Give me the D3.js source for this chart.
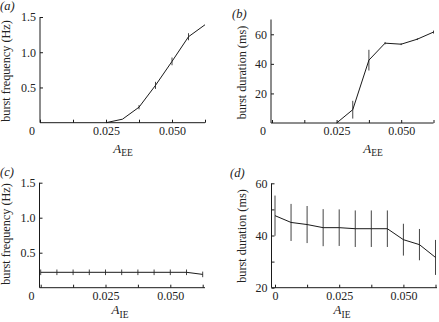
<!DOCTYPE html>
<html>
<head>
<meta charset="utf-8">
<script src="https://cdn.jsdelivr.net/npm/d3@7"></script>
<style>
  html, body { margin: 0; padding: 0; background: #fff; }
  svg { display: block; }
  svg text { font-family: "Liberation Serif", "DejaVu Serif", serif !important; fill: #222; }
</style>
</head>
<body>
<svg id="fig" width="439" height="322"></svg>
<script>
// Coupling strengths (x values)
const aEE = [0.025, 0.03125, 0.0375, 0.04375, 0.05, 0.05625, 0.0625];
const aIE = [0, 0.00625, 0.0125, 0.01875, 0.025, 0.03125, 0.0375, 0.04375, 0.05, 0.05625, 0.0625];

// (a) burst frequency vs A_EE
const freqEE = [0, 0.05, 0.22, 0.53, 0.87, 1.22, 1.39];
const freqEEErr = [0, 0, 0.03, 0.05, 0.055, 0.05, 0];

// (b) burst duration vs A_EE
const durEE = [0, 9, 42.5, 54, 53.3, 56.7, 61.5];
const durEEErr = [0, 6, 7, 0.8, 0.6, 0.6, 1];

// (c) burst frequency vs A_IE
const freqIE = [0.22, 0.22, 0.22, 0.22, 0.22, 0.22, 0.22, 0.22, 0.22, 0.22, 0.19];
const freqIEErr = [0.04, 0.04, 0.04, 0.04, 0.04, 0.04, 0.04, 0.04, 0.04, 0.04, 0.04];

// (d) burst duration vs A_IE
const durIE = [47.6, 45.0, 44.2, 43.0, 43.0, 42.6, 42.6, 42.6, 38.4, 36.5, 31.6];
const durIEErr = [7.7, 7.1, 7.1, 7.1, 7.0, 7.0, 7.0, 7.0, 6.1, 6.0, 6.7];

// Axis ticks
const xTicks = [0, 0.0125, 0.025, 0.0375, 0.05, 0.0625];
const xTickLabels = [0.025, 0.05];
const freqTicks = [0.5, 1.0, 1.5];
const durEETicks = [20, 40, 60];
const durIETicks = [20, 30, 40, 50, 60];
const durIELabels = [20, 40, 60];

const SERIF = '"Liberation Serif", "DejaVu Serif", serif';
const INK = "#1a1a1a";
const svg = d3.select("#fig");

function panel(cfg) {
  const g = svg.append("g").attr("font-family", SERIF);
  const x = d3.scaleLinear().domain([0, 0.0625]).range(cfg.xr);
  const y = d3.scaleLinear().domain(cfg.yd).range(cfg.yr);
  const axisX = cfg.axisX;          // x position of the vertical axis line
  const y0 = cfg.yr[0];             // y position of the horizontal axis line

  // axis lines
  g.append("line").attr("x1", axisX).attr("x2", cfg.xEnd)
    .attr("y1", y0).attr("y2", y0).attr("stroke", INK).attr("stroke-width", 1);
  g.append("line").attr("x1", axisX).attr("x2", axisX)
    .attr("y1", y0).attr("y2", cfg.yr[1]).attr("stroke", INK).attr("stroke-width", 1);

  // bottom axis ticks (inward)
  const xa = g.append("g").attr("transform", `translate(0,${y0})`)
    .call(d3.axisBottom(x).tickValues(xTicks).tickSizeInner(-3).tickSizeOuter(0)
      .tickPadding(3.5)
      .tickFormat(d => xTickLabels.some(v => Math.abs(v - d) < 1e-9) ? d3.format(".3f")(d) : (cfg.xZero && d === 0 ? "0" : "")));
  xa.attr("font-family", SERIF).attr("font-size", 12);
  xa.select(".domain").remove();
  xa.selectAll("line").attr("stroke", INK);

  // left axis ticks (inward)
  const ya = g.append("g").attr("transform", `translate(${axisX},0)`)
    .call(d3.axisLeft(y).tickValues(cfg.yTicks).tickSizeInner(-3).tickSizeOuter(0)
      .tickPadding(4)
      .tickFormat(d => cfg.yLabels.includes(d) ? cfg.yFmt(d) : ""));
  ya.attr("font-family", SERIF).attr("font-size", 12);
  ya.select(".domain").remove();
  ya.selectAll("line").attr("stroke", INK);

  // shared origin label
  if (cfg.cornerZero) {
    g.append("text").attr("x", axisX - 8).attr("y", y0 + 3.5).attr("dy", "0.71em")
      .attr("text-anchor", "middle").attr("font-size", 12).text("0");
  }

  // error bars
  g.selectAll("line.err").data(cfg.xs.map((d, i) => ({ x: d, v: cfg.ys[i], e: cfg.err[i] })).filter(d => d.e > 0))
    .join("line").attr("class", "err")
    .attr("x1", d => x(d.x)).attr("x2", d => x(d.x))
    .attr("y1", d => y(d.v - d.e)).attr("y2", d => y(d.v + d.e))
    .attr("stroke", "#444").attr("stroke-width", 1);

  // data line
  const line = d3.line().x((d, i) => x(cfg.xs[i])).y(d => y(d));
  g.append("path").datum(cfg.ys).attr("d", line)
    .attr("fill", "none").attr("stroke", INK).attr("stroke-width", 1);

  // axis titles
  const cx = cfg.ylabPos[0], cy = cfg.ylabPos[1];
  g.append("text").attr("transform", `translate(${cx},${cy}) rotate(-90)`)
    .attr("text-anchor", "middle").attr("font-size", 12.2).text(cfg.ylab);

  const xl = g.append("text").attr("x", cfg.xlabPos[0]).attr("y", cfg.xlabPos[1])
    .attr("text-anchor", "middle");
  xl.append("tspan").attr("font-style", "italic").attr("font-size", 13).text("A");
  xl.append("tspan").attr("font-size", 9.5).attr("dy", 3.5).text(cfg.sub);

  // panel letter
  g.append("text").attr("x", cfg.tag[0]).attr("y", cfg.tag[1]).attr("font-size", 12.5)
    .attr("font-style", "italic").text(cfg.tagText);
}

panel({
  xr: [40, 205], xEnd: 205, axisX: 40,
  yd: [0, 1.5], yr: [122.7, 17],
  yTicks: freqTicks, yLabels: freqTicks, yFmt: d3.format(".1f"),
  xs: aEE, ys: freqEE, err: freqEEErr,
  cornerZero: true,
  ylab: "burst frequency (Hz)", ylabPos: [10, 71],
  sub: "EE", xlabPos: [123, 152.5],
  tag: [0, 9.5], tagText: "(a)"
});

panel({
  xr: [272, 433.5], xEnd: 433.5, axisX: 271,
  yd: [0, 70], yr: [123, 19.5],
  yTicks: durEETicks, yLabels: durEETicks, yFmt: d3.format("d"),
  xs: aEE, ys: durEE, err: durEEErr,
  cornerZero: true,
  ylab: "burst duration (ms)", ylabPos: [246, 72.5],
  sub: "EE", xlabPos: [373, 152.5],
  tag: [232, 18], tagText: "(b)"
});

panel({
  xr: [40.7, 202.7], xEnd: 205, axisX: 39.5,
  yd: [0, 1.5], yr: [287.7, 182.7],
  yTicks: freqTicks, yLabels: freqTicks, yFmt: d3.format(".1f"),
  xs: aIE, ys: freqIE, err: freqIEErr,
  cornerZero: true,
  ylab: "burst frequency (Hz)", ylabPos: [10, 234],
  sub: "IE", xlabPos: [120, 314],
  tag: [0, 176], tagText: "(c)"
});

panel({
  xr: [275, 435.5], xEnd: 437, axisX: 271.5,
  yd: [20, 60], yr: [287.7, 183.3],
  yTicks: durIETicks, yLabels: durIELabels, yFmt: d3.format("d"),
  xs: aIE, ys: durIE, err: durIEErr,
  cornerZero: false, xZero: true,
  ylab: "burst duration (ms)", ylabPos: [246, 236],
  sub: "IE", xlabPos: [342, 314],
  tag: [230, 177], tagText: "(d)"
});
</script>
</body>
</html>
